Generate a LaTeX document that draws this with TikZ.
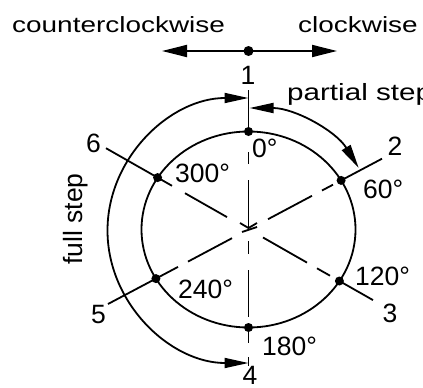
\documentclass[tikz,border=0pt]{standalone}
\usepackage{fontspec}
\setmainfont{Liberation Sans}
\usetikzlibrary{arrows.meta,calc}
\begin{document}
\begin{tikzpicture}[x=1pt,y=-1pt,
  ln/.style={line width=1.8pt,line cap=butt},
  dot/.style={circle,fill=black,inner sep=0pt,minimum size=9pt},
  lab/.style={font=\fontsize{26.5}{30}\selectfont,inner sep=0pt},
  numlab/.style={lab,anchor=base},
  deglab/.style={lab,anchor=base west},
  toplab/.style={font=\fontsize{22}{26}\selectfont,inner sep=0pt,anchor=base west},
  >={Triangle[length=24pt,width=10pt]}]
\useasboundingbox (0,0) rectangle (423,388);

% key points
\coordinate (C) at (248.5,229.5);
\coordinate (p0) at (248.5,131.5);
\coordinate (p180) at (248.5,327.5);
\coordinate (p300) at (157.6,177.6);
\coordinate (p120) at (339.4,281.0);
\coordinate (p240) at (155.9,278.6);
\coordinate (p60) at (341.1,180.4);
\coordinate (A6) at (106,148.2);
\coordinate (A3) at (373,300.1);
\coordinate (A5) at (108,304.0);
\coordinate (A2) at (382,158.7);

% inner circle
\draw[ln] (C) ellipse[x radius=107,y radius=98];

% top direction arrow
\coordinate (ccw) at (162,51);
\coordinate (cw) at (337,51);
\coordinate (top) at (248.5,51);
\draw[ln,<->,>={Triangle[length=25pt,width=12pt]}] (ccw) -- (cw);

% vertical axis
\coordinate (vtop) at (248.5,90);
\draw[ln] (vtop) -- (p0);
\draw[ln] (248.5,152) -- (248.5,164);
\draw[ln] (248.5,180) -- (248.5,228);
\draw[ln] (248.5,241) -- (248.5,254);
\draw[ln] (248.5,270) -- (248.5,317);
\draw[ln] (248.5,330) -- (248.5,343);
\draw[ln] (248.5,357) -- (248.5,366);
% centre marks
\draw[ln] (240,223) -- (248.5,228) -- (257,223);
\draw[ln] (242,232) -- (257,227);

% line 6 - 3
\draw[ln] (A6) -- (172,185.8);
\draw[ln] (185,193.2) -- (227,217.1);
\draw[ln] (263,237.5) -- (307,262.6);
\draw[ln] (317,268.3) -- (330,275.7);
\draw[ln] (p120) -- (A3);

% line 5 - 2
\draw[ln] (A5) -- (178,266.9);
\draw[ln] (188,261.6) -- (232,238.2);
\draw[ln] (268,219.2) -- (312,195.8);
\draw[ln] (322,190.5) -- (333,184.7);
\draw[ln] (p60) -- (A2);

% full step arc
\draw[ln,<->] (248.5,98) arc[start angle=-90,end angle=-270,x radius=141,y radius=132.5];
% partial step arc
\draw[ln,<->] (249.5,108) arc[start angle=-90,end angle=-30.7,x radius=127,y radius=122.5];

% dots
\node[dot] (d0) at (p0) {};
\node[dot] (d60) at (p60) {};
\node[dot] (d120) at (p120) {};
\node[dot] (d180) at (p180) {};
\node[dot] (d240) at (p240) {};
\node[dot] (d300) at (p300) {};
\node[dot,minimum size=10pt] (dtop) at (top) {};

% labels
\node[toplab] (tccw) at (12,32) {\scalebox{1.27}[1]{counterclockwise}};
\node[toplab] (tcw) at (298,32) {\scalebox{1.27}[1]{clockwise}};
\node[toplab,font=\fontsize{23.5}{27}\selectfont] (tps) at (287,100) {\scalebox{1.26}[1]{partial step}};
\node[lab,rotate=90,anchor=base] (tfs) at (82,219) {full step};

\node[numlab] (n1) at (248,84) {1};
\node[numlab] (n2) at (395,155) {2};
\node[numlab] (n3) at (390,322) {3};
\node[numlab] (n4) at (250,384) {4};
\node[numlab] (n5) at (98.5,323) {5};
\node[numlab] (n6) at (93.5,152) {6};

\node[deglab] (g0) at (252,157) {0°};
\node[deglab] (g300) at (175,182) {300°};
\node[deglab] (g60) at (363,198) {60°};
\node[deglab] (g120) at (355,285) {120°};
\node[deglab] (g240) at (178,298) {240°};
\node[deglab] (g180) at (262,355) {180°};
\end{tikzpicture}
\end{document}
